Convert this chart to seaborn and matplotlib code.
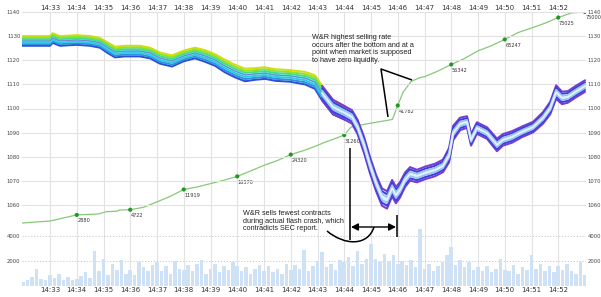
import numpy as np
import pandas as pd
import matplotlib
matplotlib.use("Agg")
import matplotlib.pyplot as plt
import seaborn as sns
from matplotlib.path import Path
import matplotlib.patches as mpatches

# ---------------- data ----------------
minute_ticks = list(range(33, 53))
minute_labels = [f"14:{m:02d}" for m in minute_ticks]

price_t = [31.95, 33.0, 33.1, 33.37, 34.0, 34.5, 34.87, 35.17, 35.43, 35.8, 36.36, 36.74, 37.11, 37.56,
           38.0, 38.42, 38.79, 39.17, 39.54, 39.92, 40.29, 40.66, 41.04, 41.41, 41.97, 42.53, 42.9, 43.17,
           43.58, 44.03, 44.29, 44.5, 44.74, 44.96, 45.19, 45.41, 45.6, 45.79, 45.93, 46.08, 46.27, 46.46,
           46.72, 47.02, 47.39, 47.69, 47.92, 48.07, 48.33, 48.59, 48.74, 48.96, 49.34, 49.71, 49.93, 50.27,
           50.64, 51.06, 51.43, 51.7, 51.92, 52.14, 52.36, 52.63, 53.0]
price_mid = [1128.0, 1128.0, 1129.2, 1128.0, 1128.4, 1128.0, 1127.2, 1125.1, 1123.4, 1123.8, 1123.8, 1123.0,
             1120.9, 1119.7, 1121.8, 1123.0, 1121.8, 1120.1, 1117.6, 1115.5, 1113.9, 1114.3, 1114.7, 1113.9,
             1113.5, 1112.6, 1111.0, 1106.4, 1100.6, 1098.1, 1096.5, 1092.3, 1084.9, 1076.6, 1069.1, 1063.3,
             1062.1, 1067.0, 1064.1, 1066.2, 1070.4, 1072.9, 1072.0, 1073.3, 1074.5, 1076.2, 1080.7, 1089.8,
             1093.6, 1094.4, 1087.0, 1091.9, 1089.8, 1084.9, 1087.0, 1088.2, 1090.3, 1092.3, 1096.1, 1100.2,
             1106.8, 1104.4, 1104.8, 1106.8, 1109.3]
price_half = [2.0, 2.0, 2.0, 2.0, 2.0, 2.0, 2.0, 2.2, 2.2, 2.2,
              2.2, 2.2, 2.3, 2.3, 2.2, 2.2, 2.4, 2.4, 2.6, 2.6,
              2.6, 2.4, 2.4, 2.4, 2.4, 2.6, 2.8, 3.0, 3.0, 2.8,
              2.8, 3.0, 3.4, 3.4, 3.4, 3.6, 3.6, 3.4, 3.4, 3.2,
              3.0, 2.8, 2.6, 2.6, 2.6, 2.6, 3.0, 3.0, 2.6, 2.4,
              2.4, 2.4, 2.4, 2.6, 2.4, 2.4, 2.2, 2.2, 2.4, 2.6,
              2.8, 2.6, 2.4, 2.4, 2.4]

cum_t = [31.95, 33.0, 34.0, 34.8, 35.1, 35.5, 35.6, 36.0, 36.5, 37.0, 37.5, 38.0, 38.5, 39.0, 39.5, 40.0,
         40.5, 41.0, 41.5, 42.0, 42.5, 43.0, 43.3, 43.6, 44.0, 44.25, 44.6, 45.0, 45.5, 45.8, 46.0, 46.2,
         46.5, 46.8, 47.0, 47.5, 48.0, 48.5, 49.0, 49.5, 50.0, 50.5, 51.0, 51.5, 52.0, 52.5, 53.0]
cum_v = [0, 700, 2880, 3200, 4000, 4200, 4600, 4722, 5600, 7500, 9500, 11919, 12800, 14000, 15200, 16570,
         18500, 20500, 22200, 24320, 25800, 27600, 28800, 29800, 31260, 34100, 34800, 35500, 36300, 36800,
         41782, 46500, 50300, 51600, 52000, 54000, 56342, 58500, 61200, 63000, 65247, 67700, 69300, 71000,
         73025, 74700, 75000]
mark_t = [34.0, 36.0, 38.0, 40.0, 42.0, 44.0, 46.0, 48.0, 50.0, 52.0, 53.0]
mark_v = [2880, 4722, 11919, 16570, 24320, 31260, 41782, 56342, 65247, 73025, 75000]

vol_start = 32.0
vol_step = 1 / 6
volume = [350, 500, 700, 1400, 600, 450,
          900, 650, 1000, 500, 750, 450,
          550, 800, 1100, 650, 2800, 1200,
          2200, 900, 1800, 1300, 2100, 1000,
          1300, 900, 1900, 1500, 1200, 1700,
          1900, 1200, 1600, 1000, 2000, 1400,
          1300, 1700, 1200, 1800, 2100, 1000,
          1400, 1800, 1100, 1600, 1300, 1900,
          1600, 1200, 1500, 1000, 1400, 1700,
          1200, 1600, 1100, 1400, 1000, 1800,
          1300, 1700, 1400, 2900, 1200, 1600,
          2000, 2700, 1500, 1800, 1300, 2100,
          1900, 2300, 1600, 2800, 1800, 2200,
          3400, 2200, 1900, 2600, 2000, 2500,
          1800, 2000, 1700, 2100, 1500, 4600,
          1400, 1800, 1200, 1600, 1900, 2500,
          3100, 1700, 2100, 1500, 1900, 1300,
          1500, 1200, 1600, 1100, 1400, 2200,
          1300, 1200, 1700, 1000, 1500, 1300,
          2500, 1400, 1800, 1200, 1600, 1100,
          1600, 1300, 1800, 1200, 1000, 1900,
          900]

note1 = "W&R highest selling rate\noccurs after the bottom and at a\npoint when market is supposed\nto have zero liquidity."
note2 = "W&R sells fewest contracts\nduring actual flash crash, which\ncontradicts SEC report."

# ---------------- figure ----------------
sns.set_theme(style="white")
plt.rcParams['font.family'] = ['DejaVu Sans']

W, H = 601, 297
fig = plt.figure(figsize=(W / 100, H / 100), dpi=100)
L, R, T, B = 22, 586, 12, 286
axv = fig.add_axes([L / W, 1 - B / H, (R - L) / W, (B - T) / H])
axc = axv.twinx()
axp = axv.twinx()

xlim = (33 + (L - 50) / 26.75, 33 + (R - 50) / 26.75)
for a in (axv, axc, axp):
    a.set_xlim(*xlim)
    for s in a.spines.values():
        s.set_visible(False)
    a.set_facecolor('none')

ppu = 2.4125
axp.set_ylim(1140 - (B - T) / ppu, 1140)
axv.set_ylim(0, (B - T) * 80)
cpp = 75000 / (223 - T)
axc.set_ylim(-(B - 223) * cpp, 75000)

axv.set_xticks(minute_ticks)
axv.set_xticklabels(minute_labels)
axv.xaxis.grid(True, color='#e2e2e2', lw=0.8)
axv.set_yticks([2000, 4000])
axv.set_yticklabels(['2000', '4000'])
axv.yaxis.grid(True, color='#c4c4c4', lw=0.6, ls=(0, (1.5, 2)))
axv.set_axisbelow(True)
axp.set_yticks([1060, 1070, 1080, 1090, 1100, 1110, 1120, 1130, 1140])
axp.yaxis.grid(True, color='#e2e2e2', lw=0.8)
axp.set_axisbelow(True)
axc.set_yticks([])

axv.tick_params(axis='x', labeltop=True, labelbottom=True, length=0, pad=1,
                labelsize=5, colors='#333333')
for a in (axv, axp):
    a.tick_params(axis='y', labelleft=True, labelright=True, left=False, right=False,
                  length=0, pad=1.2, labelsize=3.8, colors='#444444')
for a in (axv, axc, axp):
    a.set_xlabel('')
    a.set_ylabel('')

# volume bars
vol_t = vol_start + np.arange(len(volume)) * vol_step
axv.bar(vol_t, volume, width=vol_step * 0.8, color='#cfe1f5', edgecolor='none', zorder=1)

# cumulative contracts (green)
cum_df = pd.DataFrame({'t': cum_t, 'v': cum_v})
sns.lineplot(data=cum_df, x='t', y='v', ax=axc, color='#86c978', lw=0.9,
             estimator=None, sort=False, legend=False)
mk_df = pd.DataFrame({'t': mark_t, 'v': mark_v})
sns.scatterplot(data=mk_df, x='t', y='v', ax=axc, color='#249624', s=9,
                edgecolor='none', legend=False, zorder=5)
for t, v in zip(mark_t, mark_v):
    axc.annotate(f"{v}", (t, v), xytext=(0.5, -2.5), textcoords='offset points',
                 ha='left', va='top', fontsize=3.6, color='#333333', annotation_clip=False)
axc.set_xlabel('')
axc.set_ylabel('')

# price band
price = pd.DataFrame({'t': price_t, 'mid': price_mid, 'half': price_half})
early = price[price['t'] <= 44.03]
late = price[price['t'] >= 43.17]
layers = [(1.0, '#d4de08', '#7a3ccc'), (-1.0, '#2e4ed6', '#7a3ccc'),
          (0.66, '#8fe22e', '#3a3ee4'), (-0.66, '#2f92df', '#3a3ee4'),
          (0.33, '#40de8c', '#9cc4f0'), (-0.33, '#34c6e6', '#9cc4f0'),
          (0.0, '#48dcdc', '#d2e8f8')]
for seg, idx in ((early, 1), (late, 2)):
    for lay in layers:
        off, col = lay[0], lay[idx]
        sns.lineplot(x=seg['t'], y=seg['mid'] + off * seg['half'], ax=axp, color=col,
                     lw=1.45, estimator=None, sort=False, legend=False, zorder=4)
    center_col = '#7d72d6' if idx == 1 else '#eef6fd'
    sns.lineplot(x=seg['t'], y=seg['mid'], ax=axp, color=center_col, lw=0.6,
                 estimator=None, sort=False, legend=False, zorder=4)
axp.set_xlabel('')
axp.set_ylabel('')


def px(x, y):
    return (33 + (x - 50) / 26.75, 1140 - (y - T) / ppu)


tf = ['Liberation Sans', 'DejaVu Sans']
axp.text(*px(312, 34), note1, ha='left', va='top', fontsize=5.2, family=tf,
         color='#222222', linespacing=1.15, zorder=6)
axp.text(*px(243, 210), note2, ha='left', va='top', fontsize=5.2, family=tf,
         color='#222222', linespacing=1.15, zorder=6)

lk = dict(color='black', lw=1.1, solid_capstyle='butt', zorder=6, clip_on=False)
v0, v1, v2 = px(381, 69), px(388, 117), px(412, 80)
axp.plot([v1[0], v0[0], v2[0]], [v1[1], v0[1], v2[1]], **lk)
a1, a2 = px(350, 148), px(350, 240)
axp.plot([a1[0], a2[0]], [a1[1], a2[1]], **lk)
b1, b2 = px(397, 215), px(397, 237)
axp.plot([b1[0], b2[0]], [b1[1], b2[1]], **lk)
h1, h2 = px(351, 227), px(396, 227)
axp.annotate('', xy=h1, xytext=h2,
             arrowprops=dict(arrowstyle='<|-|>,head_length=0.35,head_width=0.18', color='black',
                             lw=1.0, shrinkA=0, shrinkB=0), zorder=6, annotation_clip=False)
verts = [px(327, 231), px(345, 246), px(368, 246), px(374, 227)]
path = Path(verts, [Path.MOVETO, Path.CURVE4, Path.CURVE4, Path.CURVE4])
axp.add_patch(mpatches.PathPatch(path, facecolor='none', edgecolor='black', lw=1.1,
                                 zorder=6, clip_on=False))

fig.savefig('out.png', dpi=100)
